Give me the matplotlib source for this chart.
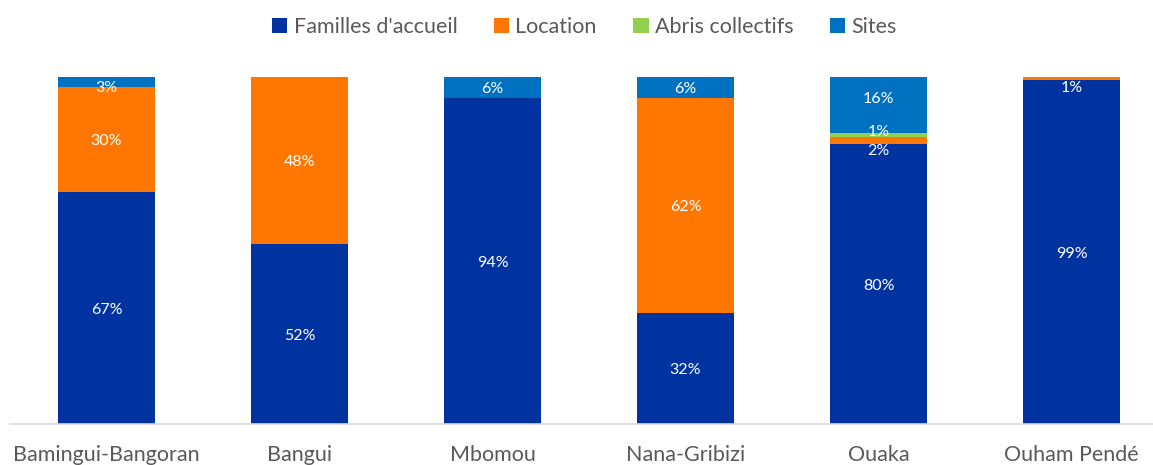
import matplotlib
matplotlib.use('Agg')
import matplotlib.pyplot as plt
import numpy as np

plt.rcParams['font.family'] = ['Lato', 'DejaVu Sans']

regions = ['Bamingui-Bangoran', 'Bangui', 'Mbomou', 'Nana-Gribizi', 'Ouaka', 'Ouham Pendé']
series = ["Familles d'accueil", 'Location', 'Abris collectifs', 'Sites']
familles = [67, 52, 94, 32, 80, 99]
location = [30, 48, 0, 62, 2, 1]
abris = [0, 0, 0, 0, 1, 0]
sites = [3, 0, 6, 6, 16, 0]

COLORS = ['#0033A0', '#FF7700', '#92D050', '#0070C0']
TEXT_COLOR = '#595959'

# label nudges (in pixels) where Excel moved labels apart
nudges = {(4, 3): -8, (4, 2): -5, (4, 1): 9}

data = np.array([familles, location, abris, sites], dtype=float)
shares = data / data.sum(axis=0)

fig = plt.figure(figsize=(11.53, 4.65), dpi=100)
ax = fig.add_axes([10 / 1153, 41 / 465, 1143 / 1153, 347 / 465])

x = np.arange(len(regions))
px_per_unit = 347.0
bottom = np.zeros(len(regions))
for i, name in enumerate(series):
    ax.bar(x, shares[i], 0.5, bottom=bottom, color=COLORS[i], label=name, zorder=2)
    for j in range(len(regions)):
        if data[i, j] <= 0:
            continue
        yc = bottom[j] + shares[i, j] / 2
        yc = min(yc, 1 - 9 / px_per_unit)
        yc -= nudges.get((j, i), 0) / px_per_unit
        ax.text(x[j], yc - 2 / px_per_unit, f'{int(data[i, j])}%', ha='center', va='center',
                color='white', fontsize=11.5, zorder=3)
    bottom += shares[i]

ax.set_xlim(-0.5, -0.5 + 1143 / 193)
ax.set_ylim(0, 1)
ax.set_yticks([])
ax.set_xticks(x)
ax.set_xticklabels(regions, fontsize=15.5, color=TEXT_COLOR)
ax.tick_params(axis='x', length=0, pad=15)
for s in ['top', 'right', 'left']:
    ax.spines[s].set_visible(False)
ax.spines['bottom'].set_color('#D9D9D9')
ax.spines['bottom'].set_linewidth(1.2)

fig.legend(loc='upper center', bbox_to_anchor=(0.507, 1.005), ncol=4, frameon=False,
           fontsize=15.5, handlelength=0.7, handleheight=0.7, handletextpad=0.3,
           columnspacing=1.7, labelcolor=TEXT_COLOR)

fig.savefig('out.png', dpi=100)
